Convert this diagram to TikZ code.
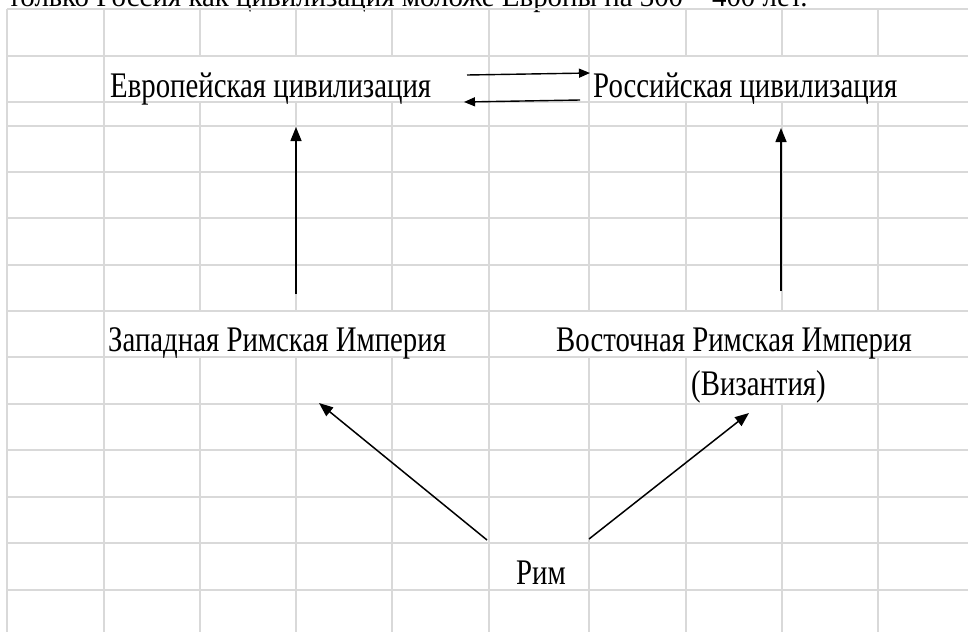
\documentclass[tikz,border=0pt]{standalone}
\usepackage{fontspec}
\setmainfont{Liberation Serif}
\newfontfamily\xlfont[FakeStretch=0.8]{Liberation Serif}
\usetikzlibrary{arrows.meta}
\definecolor{gridgray}{HTML}{D9D9D9}
\tikzset{
  gridline/.style={draw=gridgray, line width=1.4pt},
  celltext/.style={inner sep=0pt, anchor=base west, font=\xlfont\fontsize{36}{40}\selectfont},
  ctrtext/.style={inner sep=0pt, anchor=base, font=\xlfont\fontsize{36}{40}\selectfont},
  bigarrow/.style={draw=black, line width=1.5pt, -{Triangle[length=14pt,width=11pt]}},
  smallarrow/.style={draw=black, line width=1.4pt, -{Triangle[length=11pt,width=9pt]}},
}
\begin{document}
\begin{tikzpicture}[x=1pt,y=-1pt]
\useasboundingbox (0,0) rectangle (968,632);
\begin{scope}
\clip (0,0) rectangle (968,632);
% cut-off line of text above the sheet
\node[inner sep=0pt, anchor=base west, font=\fontsize{28.9}{32}\selectfont] (toptext) at (8,6) {только Россия как цивилизация моложе Европы на 300 – 400 лет.};
% horizontal grid lines
\foreach \y in {9,56,102,126,172,218,265,311,357,404,450,497,543,590}
  \draw[gridline] (7,\y) -- (968,\y);
% vertical grid lines, full height
\foreach \x in {7,104,489}
  \draw[gridline] (\x,9) -- (\x,632);
% vertical lines broken where text overflows cells
\foreach \x in {200,296,392}{
  \draw[gridline] (\x,9) -- (\x,56);
  \draw[gridline] (\x,102) -- (\x,311);
  \draw[gridline] (\x,357) -- (\x,632);
}
\draw[gridline] (589,9) -- (589,311);
\draw[gridline] (589,357) -- (589,632);
\foreach \x in {686,878}{
  \draw[gridline] (\x,9) -- (\x,56);
  \draw[gridline] (\x,102) -- (\x,311);
  \draw[gridline] (\x,357) -- (\x,632);
}
\draw[gridline] (782,9) -- (782,56);
\draw[gridline] (782,102) -- (782,311);
\draw[gridline] (782,404) -- (782,632);
\end{scope}
% texts
\node[celltext] (eur) at (110,97) {Европейская цивилизация};
\node[celltext] (rus) at (593,97) {Российская цивилизация};
\node[celltext] (west) at (108,351) {Западная Римская Империя};
\node[ctrtext] (east) at (734,351) {Восточная Римская Империя};
\node[celltext] (byz) at (691,395) {(Византия)};
\node[ctrtext] (rome) at (541,584) {Рим};
% arrow end points
\coordinate (er1) at (467,75);
\coordinate (er2) at (590,73);
\coordinate (re1) at (580,100);
\coordinate (re2) at (464,102);
\coordinate (w1) at (296,294);
\coordinate (w2) at (296,127);
\coordinate (e1) at (781,291);
\coordinate (e2) at (781,128);
\coordinate (rw1) at (487,540);
\coordinate (rw2) at (319,403);
\coordinate (re3) at (589,539);
\coordinate (re4) at (749,413);
% arrows
\draw[smallarrow] (er1) -- (er2);
\draw[smallarrow] (re1) -- (re2);
\draw[bigarrow] (w1) -- (w2);
\draw[bigarrow] (e1) -- (e2);
\draw[bigarrow] (rw1) -- (rw2);
\draw[bigarrow] (re3) -- (re4);
\end{tikzpicture}
\end{document}
